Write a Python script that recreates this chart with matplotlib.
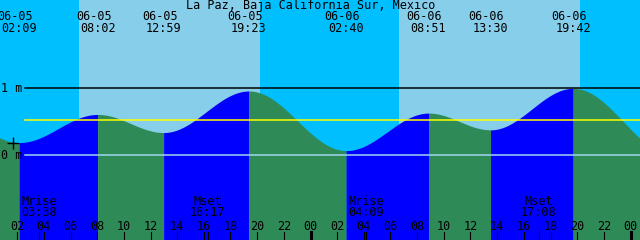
import numpy as np
import matplotlib.pyplot as plt
import matplotlib.transforms as mtransforms

# 潮汐极值（06-05 00:00 起算的小时数）
tide_dates = ['06-05', '06-05', '06-05', '06-05', '06-06', '06-06', '06-06', '06-06']
tide_times = ['02:09', '08:02', '12:59', '19:23', '02:40', '08:51', '13:30', '19:42']
tide_heights = [0.19, 0.61, 0.34, 0.96, 0.07, 0.63, 0.38, 1.00]
# 图左右边界之外的前一个高潮和后一个低潮（估计值）
edge_hours = [-5.2, 51.25]
edge_heights = [0.95, 0.0]

# 日出日落（每天）
sunrise = ['06:38', '06:38']
sunset = ['20:13', '20:13']

# 月出月落
moon_names = ['Mrise', 'Mset', 'Mrise', 'Mset']
moon_times = ['03:38', '16:17', '04:09', '17:08']
moon_days = [0, 0, 1, 1]

mean_level = 0.52
title = 'La Paz, Baja California Sur, Mexico'

NIGHT = '#00BFFF'
DAY = '#87CEEB'
FLOOD = '#0000FF'
EBB = '#2E8B57'
FONT = dict(family='DejaVu Sans Mono', fontsize=8.5, color='black')


def to_hours(s, day=0):
    h, m = s.split(':')
    return day * 24 + int(h) + int(m) / 60


day_of = [0 if d == '06-05' else 1 for d in tide_dates]
ext_t = [edge_hours[0]] + [to_hours(t, d) for t, d in zip(tide_times, day_of)] + [edge_hours[1]]
ext_h = [edge_heights[0]] + tide_heights + [edge_heights[1]]

fig = plt.figure(figsize=(6.4, 2.4), dpi=100)
ax = fig.add_axes([0, 0, 1, 1])
ax.set_axis_off()

# 像素与坐标换算：每小时13.33像素，0 m 在第155行，1 m = 67像素
x0, x1 = 0.7125, 48.7125
ax.set_xlim(x0, x1)
ax.set_ylim(-1.264, 2.318)
ax.set_facecolor(NIGHT)
fig.patch.set_facecolor(NIGHT)
ax.add_patch(plt.Rectangle((0, 0), 1, 1, transform=ax.transAxes, color=NIGHT, zorder=0))

# 白天
for d, (sr, ss) in enumerate(zip(sunrise, sunset)):
    ax.axvspan(to_hours(sr, d), to_hours(ss, d), color=DAY, zorder=1, lw=0)

# 潮位曲线（余弦插值于相邻极值之间）
for i in range(len(ext_t) - 1):
    ta, tb = ext_t[i], ext_t[i + 1]
    ha, hb = ext_h[i], ext_h[i + 1]
    t = np.linspace(ta, tb, 200)
    h = hb + (ha - hb) * (1 + np.cos(np.pi * (t - ta) / (tb - ta))) / 2
    ax.fill_between(t, -2, h, color=FLOOD if hb > ha else EBB, lw=0, zorder=2)

# 水平参考线
ax.axhline(1.0, xmin=25 / 640, color='black', lw=1.1, zorder=3)
ax.axhline(mean_level, xmin=25 / 640, color='yellow', lw=1.1, zorder=3)
ax.axhline(0.0, xmin=25 / 640, color='#9FD6EE', lw=1.1, zorder=3)
ax.text(12 / 640, 1.0, '1 m', transform=mtransforms.blended_transform_factory(ax.transAxes, ax.transData),
        ha='center', va='center', **FONT)
ax.text(12 / 640, 0.0, '0 m', transform=mtransforms.blended_transform_factory(ax.transAxes, ax.transData),
        ha='center', va='center', **FONT)
ax.plot([1.69], [0.18], marker='+', ms=8, mew=1.0, color='black', zorder=4)

# x为数据坐标，y为从顶部起的像素行
tr = mtransforms.blended_transform_factory(ax.transData, fig.transFigure)


def row(p):
    return 1 - p / 240


ax.text(24.0, row(6), title, transform=tr, ha='center', va='center', **FONT)
for d, t, dd in zip(tide_dates, tide_times, day_of):
    hx = to_hours(t, dd)
    ax.text(hx - 0.3, row(17), d, transform=tr, ha='center', va='center', **FONT)
    ax.text(hx, row(29), t, transform=tr, ha='center', va='center', **FONT)

# 月出月落
for name, t, d in zip(moon_names, moon_times, moon_days):
    hx = to_hours(t, d)
    ax.text(hx, row(201.5), name, transform=tr, ha='center', va='center', **FONT)
    ax.text(hx, row(213), t, transform=tr, ha='center', va='center', **FONT)
    ax.plot([hx, hx], [row(232), row(240)], transform=tr, color='black', lw=0.8, zorder=5)

# 时间刻度
for hr in range(2, 49, 2):
    ax.text(hr, row(226), '%02d' % (hr % 24), transform=tr, ha='center', va='center', **FONT)
    lw = 2.2 if hr % 24 == 0 else 0.8
    ax.plot([hr, hr], [row(232), row(240)], transform=tr, color='black', lw=lw, zorder=5)

fig.savefig('out.png', dpi=100, facecolor=NIGHT)
